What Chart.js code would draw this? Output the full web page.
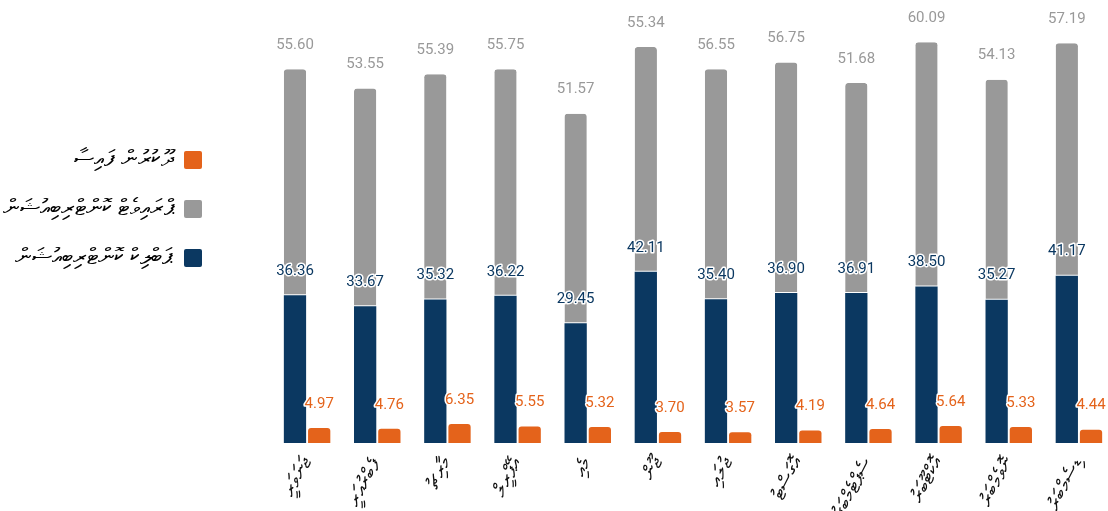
<!DOCTYPE html>
<html lang="dv">
<head>
<meta charset="utf-8">
<script src="https://cdn.jsdelivr.net/npm/chart.js@4.4.1/dist/chart.umd.min.js"></script>
<style>
html, body { margin: 0; padding: 0; background: #fff; overflow: hidden; }
#caixa { position: relative; width: 1114px; height: 511px; }
</style>
</head>
<body>
<div id="caixa"><canvas id="grafico"></canvas></div>
<script>
// months, left to right
const meses = ["ޖަނަވަރީ", "ފެބްރުއަރީ", "މާރިޗު", "އޭޕްރީލް", "މެއި", "ޖޫން", "ޖުލައި", "އޮގަސްޓު", "ސެޕްޓެމްބަރު", "އޮކްޓޫބަރު", "ނޮވެމްބަރު", "ޑިސެމްބަރު"]

const nome_publico = "ޕަބްލިކް ކޮންޓްރިބިއުޝަން"
const nome_privado = "ޕްރައިވެޓް ކޮންޓްރިބިއުޝަން"
const nome_saida = "ދޫކުރުން ފައިސާ"

const publico = [36.36, 33.67, 35.32, 36.22, 29.45, 42.11, 35.40, 36.90, 36.91, 38.50, 35.27, 41.17]
const privado = [55.60, 53.55, 55.39, 55.75, 51.57, 55.34, 56.55, 56.75, 51.68, 60.09, 54.13, 57.19]
const saida = [4.97, 4.76, 6.35, 5.55, 5.32, 3.70, 3.57, 4.19, 4.64, 5.64, 5.33, 4.44]

const cor_azul = "#0b3861"
const cor_cinza = "#999999"
const cor_laranja = "#e4631b"

const fonte = "Roboto, 'DejaVu Sans', 'Noto Sans', sans-serif"

// value labels above each bar
const rotulos = {
    id: "rotulos",
    afterDatasetsDraw(chart) {
        const ctx = chart.ctx
        ctx.save()
        ctx.font = "15px " + fonte
        ctx.textAlign = "center"
        ctx.textBaseline = "middle"
        ctx.lineJoin = "round"
        chart.data.datasets.forEach((ds, i) => {
            const meta = chart.getDatasetMeta(i)
            meta.data.forEach((barra, j) => {
                const texto = ds.data[j].toFixed(2)
                const y = barra.y - 24
                if (ds.contorno) {
                    ctx.strokeStyle = "#fff"
                    ctx.lineWidth = 3
                    ctx.strokeText(texto, barra.x, y)
                }
                ctx.fillStyle = ds.cor_rotulo
                ctx.fillText(texto, barra.x, y)
            })
        })
        ctx.restore()
    }
}

const dados = {
    labels: meses,
    datasets: [{
        label: nome_publico,
        data: publico,
        backgroundColor: cor_azul,
        stack: "a",
        yAxisID: "y",
        categoryPercentage: 0.69,
        barPercentage: 0.92,
        borderWidth: 0,
        cor_rotulo: cor_azul,
        contorno: true,
    }, {
        label: nome_privado,
        data: privado,
        backgroundColor: cor_cinza,
        borderColor: "#fff",
        borderWidth: { top: 0, right: 0, bottom: 1, left: 0 },
        borderSkipped: false,
        borderRadius: { topLeft: 3, topRight: 3 },
        stack: "a",
        yAxisID: "y",
        categoryPercentage: 0.69,
        barPercentage: 0.92,
        cor_rotulo: "#999999",
        contorno: false,
    }, {
        label: nome_saida,
        data: saida,
        backgroundColor: cor_laranja,
        borderWidth: 0,
        borderRadius: { topLeft: 3, topRight: 3 },
        stack: "b",
        yAxisID: "y2",
        categoryPercentage: 0.69,
        barPercentage: 0.92,
        cor_rotulo: cor_laranja,
        contorno: true,
    }]
}

const config = {
    type: "bar",
    data: dados,
    plugins: [rotulos],
    options: {
        responsive: true,
        maintainAspectRatio: false,
        animation: false,
        layout: { padding: 0 },
        plugins: {
            tooltip: { enabled: false },
            legend: {
                position: "left",
                align: "start",
                reverse: true,
                rtl: true,
                textDirection: "rtl",
                maxWidth: 228,
                title: { display: true, text: " ", padding: { top: 108, bottom: 0 } },
                labels: {
                    boxWidth: 18,
                    boxHeight: 18,
                    padding: 26,
                    color: "#000",
                    font: { size: 23, family: fonte },
                    useBorderRadius: true,
                    borderRadius: 2,
                    generateLabels: (chart) => Chart.defaults.plugins.legend.labels.generateLabels(chart)
                        .map(item => ({ ...item, lineWidth: 0, strokeStyle: item.fillStyle }))
                }
            }
        },
        scales: {
            x: {
                stacked: true,
                grid: { display: false },
                border: { display: false },
                ticks: {
                    autoSkip: false,
                    minRotation: 63,
                    maxRotation: 63,
                    color: "#111",
                    font: { size: 20, family: fonte }
                },
                afterFit: (eixo) => { eixo.height = 68 }
            },
            y: {
                stacked: true,
                min: 0,
                max: 109,
                ticks: { display: false },
                grid: { display: false },
                border: { display: false },
                afterFit: (eixo) => { eixo.width = 44 }
            },
            y2: {
                display: false,
                min: 0,
                max: 148,
                grid: { display: false }
            }
        }
    }
}

let grafico_actual = new Chart(document.getElementById("grafico"), config)
</script>
</body>
</html>
